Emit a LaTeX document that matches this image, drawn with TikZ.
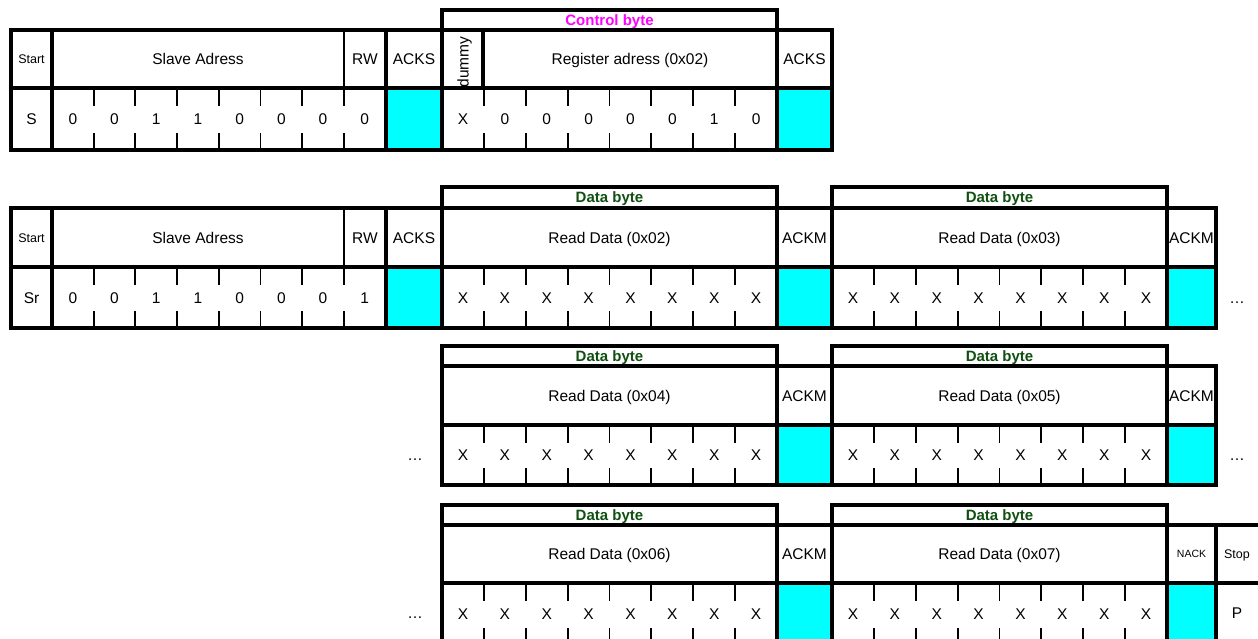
\documentclass[tikz,border=0pt]{standalone}
\usepackage{fontspec}
\setmainfont{Liberation Sans}
\definecolor{ackcyan}{RGB}{0,255,255}
\definecolor{ctrlmag}{RGB}{255,0,255}
\definecolor{datagreen}{RGB}{16,80,16}
\tikzset{
  thk/.style={line width=3.5pt},
  thn/.style={line width=1.9pt},
  lbl/.style={font=\fontsize{15.5}{18}\selectfont, inner sep=0pt, text height=11.1pt, text depth=0pt},
  sml/.style={font=\fontsize{12.5}{15}\selectfont, inner sep=0pt, text height=9pt, text depth=0pt},
  tny/.style={font=\fontsize{10.5}{12}\selectfont, inner sep=0pt, text height=7.5pt, text depth=0pt},
  ctrl/.style={font=\bfseries\fontsize{15}{18}\selectfont, text=ctrlmag, inner sep=0pt, text height=10.8pt, text depth=0pt},
  dbyte/.style={font=\bfseries\fontsize{15}{18}\selectfont, text=datagreen, inner sep=0pt, text height=10.8pt, text depth=0pt},
  ackfill/.style={fill=ackcyan},
}
% #1 x0, #2 step, #3 mid line y, #4 bottom y, #5 labels, #6 name prefix
\newcommand\bytebits[6]{%
  \foreach \i in {1,...,7}{
    \draw[thn] ({#1+\i*#2},#3) -- ++(0,18) ({#1+\i*#2},#4) -- ++(0,-17);
  }
  \foreach \t [count=\i] in {#5}{
    \node[lbl] (#6\i) at ({#1+(\i-0.5)*#2},{(#3+#4)/2}) {\t};
  }
}
\begin{document}
\begin{tikzpicture}[x=1pt,y=-1pt]
\useasboundingbox (0,0) rectangle (1258,639);
\clip (0,0) rectangle (1258,639);
\fill[white] (0,0) rectangle (1258,639);

% ---------------- Row 1 ----------------
\fill[ackfill] (386,88) rectangle (442,150) (777,88) rectangle (832,150);
\bytebits{52}{41.7}{88}{150}{0,0,1,1,0,0,0,0}{a}
\bytebits{442}{41.875}{88}{150}{X,0,0,0,0,0,1,0}{b}
\draw[thk] (11,30) rectangle (832,150) (11,88) -- (832,88);
\draw[thk] (52,30) -- (52,150) (386,30) -- (386,150) (483,30) -- (483,88);
\draw[thk] (442,150) -- (442,10) -- (777,10) -- (777,150);
\draw[thn] (344,30) -- (344,88);
\node[sml] (st1) at (31.5,59) {Start};
\node[lbl] (sa1) at (198,59) {Slave Adress};
\node[lbl] (rw1) at (365,59) {RW};
\node[lbl] (ak1) at (414,59) {ACKS};
\node[lbl, rotate=90] (dm1) at (463,62) {dummy};
\node[lbl] (ra1) at (630,59) {Register adress (0x02)};
\node[lbl] (ak1b) at (804.5,59) {ACKS};
\node[ctrl] (cb1) at (609.5,20) {Control byte};
\node[lbl] (s1) at (31.5,119) {S};

% ---------------- Row 2 ----------------
\fill[ackfill] (386,267) rectangle (442,328) (777,267) rectangle (832,328) (1167,267) rectangle (1216,328);
\bytebits{52}{41.7}{267}{328}{0,0,1,1,0,0,0,1}{c}
\bytebits{442}{41.875}{267}{328}{X,X,X,X,X,X,X,X}{d}
\bytebits{832}{41.875}{267}{328}{X,X,X,X,X,X,X,X}{e}
\draw[thk] (11,208) rectangle (1216,328) (11,267) -- (1216,267);
\draw[thk] (52,208) -- (52,328) (386,208) -- (386,328);
\draw[thk] (442,328) -- (442,187) -- (777,187) -- (777,328);
\draw[thk] (832,328) -- (832,187) -- (1167,187) -- (1167,328);
\draw[thn] (344,208) -- (344,267);
\node[sml] (st2) at (31.5,237.5) {Start};
\node[lbl] (sa2) at (198,237.5) {Slave Adress};
\node[lbl] (rw2) at (365,237.5) {RW};
\node[lbl] (ak2) at (414,237.5) {ACKS};
\node[lbl] (rd2) at (609.5,237.5) {Read Data (0x02)};
\node[lbl] (am2) at (804.5,237.5) {ACKM};
\node[lbl] (rd3) at (999.5,237.5) {Read Data (0x03)};
\node[lbl] (am2b) at (1191.5,237.5) {ACKM};
\node[dbyte] (db2a) at (609.5,197.5) {Data byte};
\node[dbyte] (db2b) at (999.5,197.5) {Data byte};
\node[lbl] (sr2) at (31.5,297.5) {Sr};
\node[lbl] (el2) at (1237,297.5) {…};

% ---------------- Row 3 ----------------
\fill[ackfill] (777,425) rectangle (832,485) (1167,425) rectangle (1216,485);
\bytebits{442}{41.875}{425}{485}{X,X,X,X,X,X,X,X}{f}
\bytebits{832}{41.875}{425}{485}{X,X,X,X,X,X,X,X}{g}
\draw[thk] (442,366) rectangle (1216,485) (442,425) -- (1216,425);
\draw[thk] (442,485) -- (442,346) -- (777,346) -- (777,485);
\draw[thk] (832,485) -- (832,346) -- (1167,346) -- (1167,485);
\node[lbl] (rd4) at (609.5,395.5) {Read Data (0x04)};
\node[lbl] (am3) at (804.5,395.5) {ACKM};
\node[lbl] (rd5) at (999.5,395.5) {Read Data (0x05)};
\node[lbl] (am3b) at (1191.5,395.5) {ACKM};
\node[dbyte] (db3a) at (609.5,356) {Data byte};
\node[dbyte] (db3b) at (999.5,356) {Data byte};
\node[lbl] (el3a) at (415,455) {…};
\node[lbl] (el3b) at (1237,455) {…};

% ---------------- Row 4 ----------------
\fill[ackfill] (777,583) rectangle (832,645) (1167,583) rectangle (1216,645);
\bytebits{442}{41.875}{583}{645}{X,X,X,X,X,X,X,X}{h}
\bytebits{832}{41.875}{583}{645}{X,X,X,X,X,X,X,X}{k}
\draw[thk] (442,525) rectangle (1264,645) (442,583) -- (1264,583);
\draw[thk] (442,645) -- (442,505) -- (777,505) -- (777,645);
\draw[thk] (832,645) -- (832,505) -- (1167,505) -- (1167,645);
\draw[thk] (1216,525) -- (1216,645);
\node[lbl] (rd6) at (609.5,554) {Read Data (0x06)};
\node[lbl] (am4) at (804.5,554) {ACKM};
\node[lbl] (rd7) at (999.5,554) {Read Data (0x07)};
\node[tny] (nk4) at (1191.5,554) {NACK};
\node[sml] (sp4) at (1237,554) {Stop};
\node[dbyte] (db4a) at (609.5,515) {Data byte};
\node[dbyte] (db4b) at (999.5,515) {Data byte};
\node[lbl] (el4) at (415,613) {…};
\node[lbl] (p4) at (1237,613) {P};
\end{tikzpicture}
\end{document}
